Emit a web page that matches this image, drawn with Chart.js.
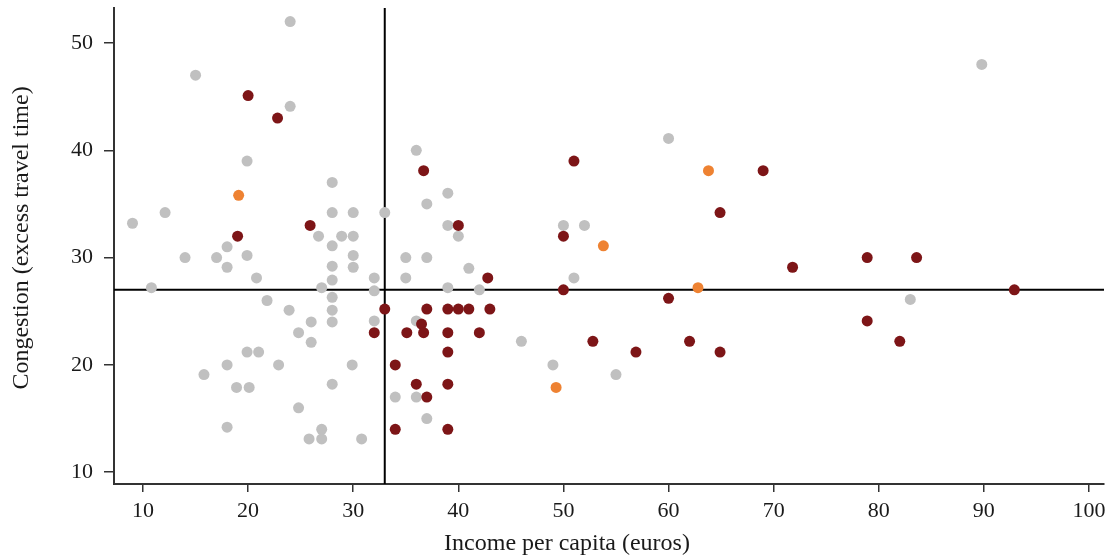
<!DOCTYPE html>
<html>
<head>
<meta charset="utf-8">
<script src="https://cdn.jsdelivr.net/npm/chart.js@4.4.0/dist/chart.umd.min.js"></script>
<style>
  html, body { margin: 0; padding: 0; background: #ffffff; }
  #wrap { width: 1114px; height: 559px; position: relative; }
</style>
</head>
<body>
<div id="wrap"><canvas id="c" width="1114" height="559"></canvas></div>
<script>
// ---- Data ----
const xTicks = [10, 20, 30, 40, 50, 60, 70, 80, 90, 100];
const yTicks = [10, 20, 30, 40, 50];
const xRange = [7.24, 101.43];
const yRange = [8.9, 53.26];
const refIncome = 33;      // vertical reference line
const refCongestion = 27;  // horizontal reference line
const xTitle = 'Income per capita (euros)';
const yTitle = 'Congestion (excess travel time)';

const grayIncome = [9, 10.8, 12.1, 15, 14, 15.8, 17, 18, 18, 18, 18, 18.9, 19.9, 19.9, 19.9, 20.1, 20.8, 21, 24, 24, 21.8, 22.9, 23.9, 24.8, 24.8, 26, 26, 25.8, 26.7, 27, 27, 27, 28, 28, 28, 28, 28, 28, 28, 28, 28, 28.9, 30, 30, 30, 30, 29.9, 30.8, 32, 32, 32, 33, 34, 35, 35, 36, 36, 36, 37, 37, 37, 39, 39, 39, 40, 41, 42, 46, 49, 50, 52, 51, 55, 60, 83, 89.8];
const grayCongestion = [33.2, 27.2, 34.2, 47, 30, 19.1, 30, 31, 29.1, 20, 14.2, 17.9, 39, 30.2, 21.2, 17.9, 28.1, 21.2, 52, 44.1, 26, 20, 25.1, 23, 16, 24, 22.1, 13.1, 32, 27.2, 14, 13.1, 37, 34.2, 31.1, 29.2, 27.9, 26.3, 25.1, 24, 18.2, 32, 34.2, 32, 30.2, 29.1, 20, 13.1, 28.1, 26.9, 24.1, 34.2, 17, 30, 28.1, 40, 24.1, 17, 35, 30, 15, 33, 36, 27.2, 32, 29, 27, 22.2, 20, 33, 33, 28.1, 19.1, 41.1, 26.1, 48];

const redIncome = [20, 22.8, 25.9, 19, 36.7, 51, 69, 64.9, 40, 50, 78.9, 83.6, 71.8, 42.8, 50, 92.9, 60, 33, 37, 39, 40, 41, 43, 78.9, 36.5, 32, 35.1, 36.7, 39, 42, 52.8, 62, 82, 39, 56.9, 64.9, 34, 36, 39, 37, 34, 39];
const redCongestion = [45.1, 43, 33, 32, 38.1, 39, 38.1, 34.2, 33, 32, 30, 30, 29.1, 28.1, 27, 27, 26.2, 25.2, 25.2, 25.2, 25.2, 25.2, 25.2, 24.1, 23.8, 23, 23, 23, 23, 23, 22.2, 22.2, 22.2, 21.2, 21.2, 21.2, 20, 18.2, 18.2, 17, 14, 14];

const orangeIncome = [19.1, 53.8, 63.8, 62.8, 49.3];
const orangeCongestion = [35.8, 31.1, 38.1, 27.2, 17.9];

// ---- Build chart ----
const pts = (xs, ys) => xs.map((x, i) => ({ x: x, y: ys[i] }));
const FONT = "'Liberation Serif', 'Times New Roman', serif";
const AXIS = '#333333';
const TXT = '#1a1a1a';

const pointStyle = (color, order) => ({
  type: 'scatter',
  backgroundColor: color,
  borderColor: color,
  borderWidth: 0,
  pointRadius: 5.5,
  pointHoverRadius: 5.5,
  order: order
});

const axisTitles = {
  id: 'axisTitles',
  afterDraw(chart) {
    const ctx = chart.ctx;
    ctx.save();
    ctx.fillStyle = TXT;
    ctx.font = "24px " + FONT;
    ctx.textAlign = 'center';
    ctx.textBaseline = 'middle';
    ctx.fillText(xTitle, 567, 544);
    ctx.translate(22, 238);
    ctx.rotate(-Math.PI / 2);
    ctx.fillText(yTitle, 0, 0);
    ctx.restore();
  }
};

new Chart(document.getElementById('c'), {
  type: 'scatter',
  data: {
    datasets: [
      {
        type: 'line', data: [{ x: refIncome, y: yRange[0] }, { x: refIncome, y: yRange[1] }],
        borderColor: '#000', borderWidth: 2, pointRadius: 0, fill: false, order: 10
      },
      {
        type: 'line', data: [{ x: xRange[0], y: refCongestion }, { x: xRange[1], y: refCongestion }],
        borderColor: '#000', borderWidth: 2, pointRadius: 0, fill: false, order: 10
      },
      Object.assign({ data: pts(orangeIncome, orangeCongestion) }, pointStyle('#ee8232', 1)),
      Object.assign({ data: pts(redIncome, redCongestion) }, pointStyle('#7d1517', 2)),
      Object.assign({ data: pts(grayIncome, grayCongestion) }, pointStyle('#c0c0c0', 3))
    ]
  },
  plugins: [axisTitles],
  options: {
    responsive: false,
    animation: false,
    layout: { padding: { left: 0, right: 10, top: 8, bottom: 0 } },
    plugins: { legend: { display: false }, tooltip: { enabled: false } },
    scales: {
      x: {
        type: 'linear', min: xRange[0], max: xRange[1],
        afterBuildTicks: (s) => { s.ticks = xTicks.map(v => ({ value: v })); },
        afterFit: (s) => { s.height = 75; s.paddingLeft = 0; s.paddingRight = 0; },
        grid: { drawOnChartArea: false, drawTicks: true, tickLength: 8, color: AXIS, lineWidth: 1.5 },
        border: { display: true, color: AXIS, width: 2 },
        ticks: { color: TXT, padding: 6, font: { family: FONT, size: 22 }, autoSkip: false, maxRotation: 0 },
        title: { display: false }
      },
      y: {
        type: 'linear', min: yRange[0], max: yRange[1],
        afterBuildTicks: (s) => { s.ticks = yTicks.map(v => ({ value: v })); },
        afterFit: (s) => { s.width = 114; s.paddingTop = 0; s.paddingBottom = 0; },
        grid: { drawOnChartArea: false, drawTicks: true, tickLength: 10, color: AXIS, lineWidth: 1.5 },
        border: { display: true, color: AXIS, width: 2 },
        ticks: { color: TXT, padding: 11, font: { family: FONT, size: 22 }, autoSkip: false },
        title: { display: false }
      }
    }
  }
});
</script>
</body>
</html>
